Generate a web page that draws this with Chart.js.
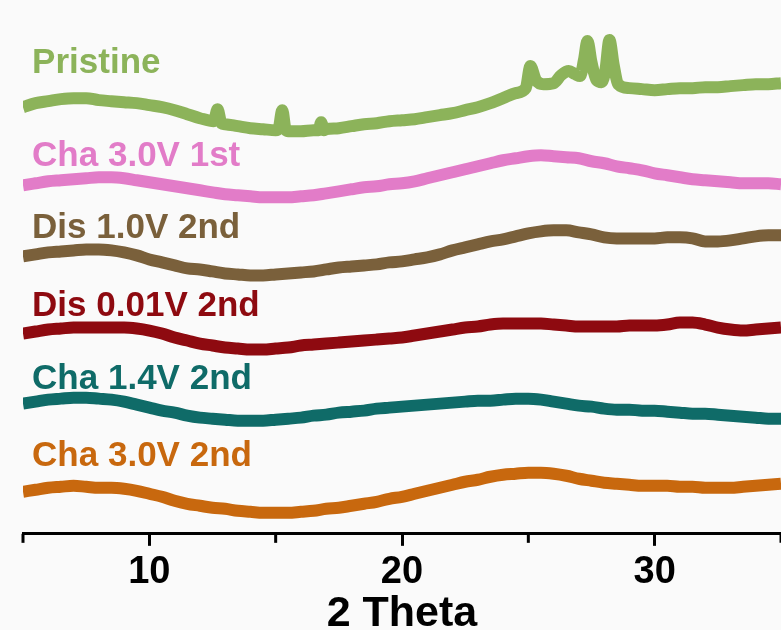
<!DOCTYPE html>
<html>
<head>
<meta charset="utf-8">
<script src="https://cdn.jsdelivr.net/npm/chart.js@4.4.1/dist/chart.umd.min.js"></script>
<style>
html,body{margin:0;padding:0;background:#fafafa;}
#wrap{width:781px;height:630px;}
</style>
</head>
<body>
<div id="wrap"><canvas id="c" width="781" height="630"></canvas></div>
<script>
// ---- data (intensity in arbitrary units, stacked offsets already included) ----
const seriesNames = ["Pristine", "Cha 3.0V 1st", "Dis 1.0V 2nd", "Dis 0.01V 2nd", "Cha 1.4V 2nd", "Cha 3.0V 2nd"];

const twoTheta = [5,5.5,6,6.5,7,7.5,8,8.5,9,9.5,10,10.5,11,11.5,12,12.5,13,13.5,14,14.5,15,15.5,16,16.5,17,17.5,18,18.5,19,19.5,20,20.5,21,21.5,22,22.5,23,23.5,24,24.5,25,25.5,26,26.5,27,27.5,28,28.5,29,29.5,30,30.5,31,31.5,32,32.5,33,33.5,34,34.5,35];

const pristineTheta = [5,5.5,6,6.5,7,7.5,8,8.5,9,9.5,10,10.5,11,11.5,12,12.55,12.7,12.85,13,13.5,14,14.5,15,15.12,15.26,15.4,15.5,16,16.5,16.7,16.8,16.9,17,17.5,18,18.5,19,19.5,20,20.5,21,21.5,22,22.5,23,23.5,24,24.5,24.9,25.08,25.3,25.6,26,26.3,26.6,26.85,27.05,27.2,27.34,27.5,27.7,27.9,28.05,28.21,28.38,28.55,29,29.5,30,30.5,31,31.5,32,32.5,33,33.5,34,34.5,35];
const pristine = [426,430,432,434,435,435,433,432,431,430,428,426,423,419,415,412,424,410,409,407,405,404,403,405,423,403,402,402,403,403,411,403,404,405,407,409,410,412,413,414,416,418,420,423,426,430,435,440,445,467,453,449,450,458,462,459,457,473,492,471,453,451,463,493,468,449,445,444,443,444,445,445,446,446,447,448,449,449,450];

const cha30_1st = [348,350,352,353,354,355,356,356,355,353,351,349,347,345,343,341,339,338,337,336,336,336,337,338,340,342,344,346,347,349,350,352,355,358,361,364,367,370,373,375,377,378,377,376,375,372,370,367,365,363,360,358,356,354,353,352,351,350,350,350,349];
const dis10_2nd = [277,279,281,282,283,284,284,283,281,278,274,271,268,265,264,262,260,259,258,258,259,260,261,262,264,266,267,268,269,271,272,274,276,279,283,286,289,292,294,297,300,302,303,303,301,299,296,295,295,295,295,296,296,295,292,292,293,295,297,298,298];
const dis001_2nd = [200,202,204,205,206,206,206,206,206,205,203,200,196,193,190,188,186,185,184,184,185,186,188,189,190,191,192,193,194,195,196,198,200,202,204,206,207,209,210,210,210,210,209,208,207,207,207,207,208,208,208,209,211,211,209,206,204,203,204,205,206];
const cha14_2nd = [130,132,134,135,136,136,135,134,132,129,126,123,121,118,116,115,114,113,113,113,114,115,116,118,119,121,122,123,125,126,127,128,129,130,131,132,133,133,134,135,135,134,132,130,128,127,125,124,124,123,123,122,121,120,120,119,118,117,116,115,115];
const cha30_2nd = [42,44,46,47,48,47,46,46,45,43,40,37,33,30,28,26,25,23,22,21,21,21,22,23,25,26,28,30,32,35,37,40,43,46,49,52,54,57,59,60,61,61,60,58,55,53,51,50,49,48,48,48,47,47,46,46,46,47,48,49,50];

const xTickLabels = [10, 20, 30];

// ---- styling ----
const colors = ["#8cb35a", "#e27cc8", "#7a603b", "#8e0a10", "#0f6b68", "#c8680e"];
const labelAnchor = [
  {x: 5.36, y: 460},
  {x: 5.36, y: 367},
  {x: 5.36, y: 295},
  {x: 5.36, y: 217},
  {x: 5.36, y: 145},
  {x: 5.36, y: 68}
];

function pts(xs, ys){ return xs.map((x,i)=>({x:x, y:ys[i]})); }
const allSeries = [
  pts(pristineTheta, pristine),
  pts(twoTheta, cha30_1st),
  pts(twoTheta, dis10_2nd),
  pts(twoTheta, dis001_2nd),
  pts(twoTheta, cha14_2nd),
  pts(twoTheta, cha30_2nd)
];

const bgPlugin = {
  id: 'bg',
  beforeDraw(chart){
    const ctx = chart.ctx;
    ctx.save();
    ctx.fillStyle = '#fafafa';
    ctx.fillRect(0,0,chart.width,chart.height);
    ctx.restore();
  }
};

const labelPlugin = {
  id: 'seriesLabels',
  afterDatasetsDraw(chart){
    const ctx = chart.ctx;
    const xs = chart.scales.x, ys = chart.scales.y;
    ctx.save();
    ctx.font = 'bold 35px "Liberation Sans", Arial, sans-serif';
    ctx.textAlign = 'left';
    ctx.textBaseline = 'alphabetic';
    seriesNames.forEach((name,i)=>{
      ctx.fillStyle = colors[i];
      ctx.fillText(name, xs.getPixelForValue(labelAnchor[i].x), ys.getPixelForValue(labelAnchor[i].y));
    });
    ctx.restore();
  }
};

const minorTickPlugin = {
  id: 'minorTicks',
  afterDraw(chart){
    const sc = chart.scales.x;
    const ctx = chart.ctx;
    ctx.save();
    ctx.strokeStyle = '#000';
    ctx.lineWidth = 3;
    sc.ticks.forEach(t=>{
      if (t.value % 10 !== 0) {
        const px = sc.getPixelForValue(t.value);
        ctx.beginPath();
        ctx.moveTo(px, sc.top);
        ctx.lineTo(px, sc.top + 9);
        ctx.stroke();
      }
    });
    ctx.restore();
  }
};

new Chart(document.getElementById('c'), {
  type: 'line',
  data: {
    datasets: allSeries.map((d,i)=>({
      label: seriesNames[i],
      data: d,
      borderColor: colors[i],
      backgroundColor: colors[i],
      borderWidth: 12,
      pointRadius: 0,
      cubicInterpolationMode: 'monotone',
      fill: false,
      borderJoinStyle: 'round',
      borderCapStyle: 'butt'
    }))
  },
  options: {
    responsive: false,
    animation: false,
    layout: {autoPadding: false, padding: {left: 23, right: 0, top: 0, bottom: 0}},
    plugins: {legend: {display: false}, tooltip: {enabled: false}},
    scales: {
      x: {
        type: 'linear',
        min: 5, max: 35,
        border: {display: true, color: '#000', width: 3},
        grid: {
          display: true,
          drawOnChartArea: false,
          drawTicks: true,
          tickLength: 12,
          tickWidth: 3,
          tickColor: (c) => (c.tick && xTickLabels.includes(c.tick.value)) ? '#000' : 'rgba(0,0,0,0)'
        },
        ticks: {
          stepSize: 5,
          autoSkip: false,
          maxRotation: 0,
          padding: 0,
          color: '#000',
          font: {family: '"Liberation Sans", Arial, sans-serif', size: 38, weight: 'bold', lineHeight: 1.4},
          callback: (v) => xTickLabels.includes(v) ? String(v) : ''
        },
        title: {
          display: true,
          text: '2 Theta',
          color: '#000',
          padding: {top: 0, bottom: 0},
          font: {family: '"Liberation Sans", Arial, sans-serif', size: 43, weight: 'bold', lineHeight: 0.72}
        }
      },
      y: {
        display: false,
        min: 0, max: 533
      }
    }
  },
  plugins: [bgPlugin, labelPlugin, minorTickPlugin]
});
</script>
</body>
</html>
